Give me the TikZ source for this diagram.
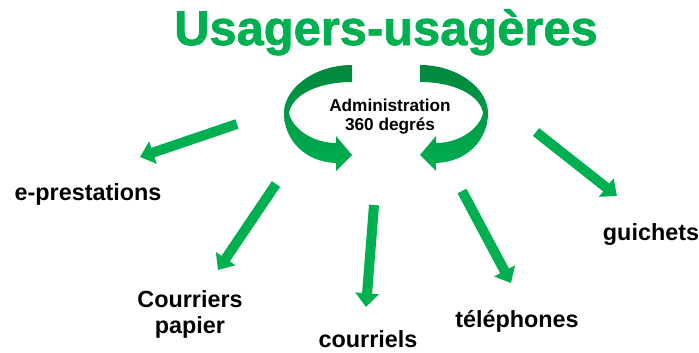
\documentclass[tikz,border=0pt]{standalone}
\usepackage{fontspec}
\setmainfont{Liberation Sans}
\newfontfamily\titlefont{Liberation Sans}[UprightFont={* Bold},FakeBold=1.5]
\usetikzlibrary{arrows.meta}

\definecolor{usgreen}{RGB}{0,176,80}
\definecolor{usdark}{RGB}{0,135,62}

\tikzset{
  outlbl/.style={font=\bfseries\fontsize{13.3}{14.8}\selectfont, align=center, anchor=base},
  flow/.style={usgreen, line width=5.7pt, -{Triangle[width=13pt,length=7.8pt]}},
  ribbon/.style={top color=usdark, bottom color=usgreen, draw=none}
}

\begin{document}
\begin{tikzpicture}[x=0.02cm, y=-0.02cm]
\useasboundingbox (0,0) rectangle (699,352);
% title
\node[anchor=base, text=usgreen, font=\titlefont\fontsize{27.8}{30}\selectfont] (titre) at (386,45) {Usagers-usagères};
% the two turning arrows
\shade[ribbon] (352,65) -- (352,82) .. controls (318,82) and (292,95) .. (289,113)
  .. controls (292,128) and (312,143) .. (336,143) -- (336,136) -- (352,155) -- (336,171) -- (336,163)
  .. controls (305,162) and (284,140) .. (284,113) .. controls (284,88) and (315,65) .. (352,65) -- cycle;
\begin{scope}[shift={(772,0)}, xscale=-1]
\shade[ribbon] (352,65) -- (352,82) .. controls (318,82) and (292,95) .. (289,113)
  .. controls (292,128) and (312,143) .. (336,143) -- (336,136) -- (352,155) -- (336,171) -- (336,163)
  .. controls (305,162) and (284,140) .. (284,113) .. controls (284,88) and (315,65) .. (352,65) -- cycle;
\end{scope}
\node[anchor=base, align=center, font=\bfseries\fontsize{9.8}{10.6}\selectfont] (admin) at (390,130) {Administration\\360 degrés};
% channels
\node[outlbl] (eprest) at (88,200) {e-prestations};
\node[outlbl] (papier) at (190,333) {Courriers\\papier};
\node[outlbl] (courriels) at (368,347) {courriels};
\node[outlbl] (tel) at (517,327) {téléphones};
\node[outlbl] (guichets) at (651,240) {guichets};
\coordinate (e0) at (237,124); \coordinate (e1) at (140,157);
\coordinate (p0) at (276,184); \coordinate (p1) at (218,270);
\coordinate (c0) at (374,205); \coordinate (c1) at (366,307);
\coordinate (t0) at (462,191); \coordinate (t1) at (511,283);
\coordinate (g0) at (536,132); \coordinate (g1) at (617,196);
\draw[flow] (e0) -- (e1);
\draw[flow] (p0) -- (p1);
\draw[flow] (c0) -- (c1);
\draw[flow] (t0) -- (t1);
\draw[flow] (g0) -- (g1);
\end{tikzpicture}
\end{document}
